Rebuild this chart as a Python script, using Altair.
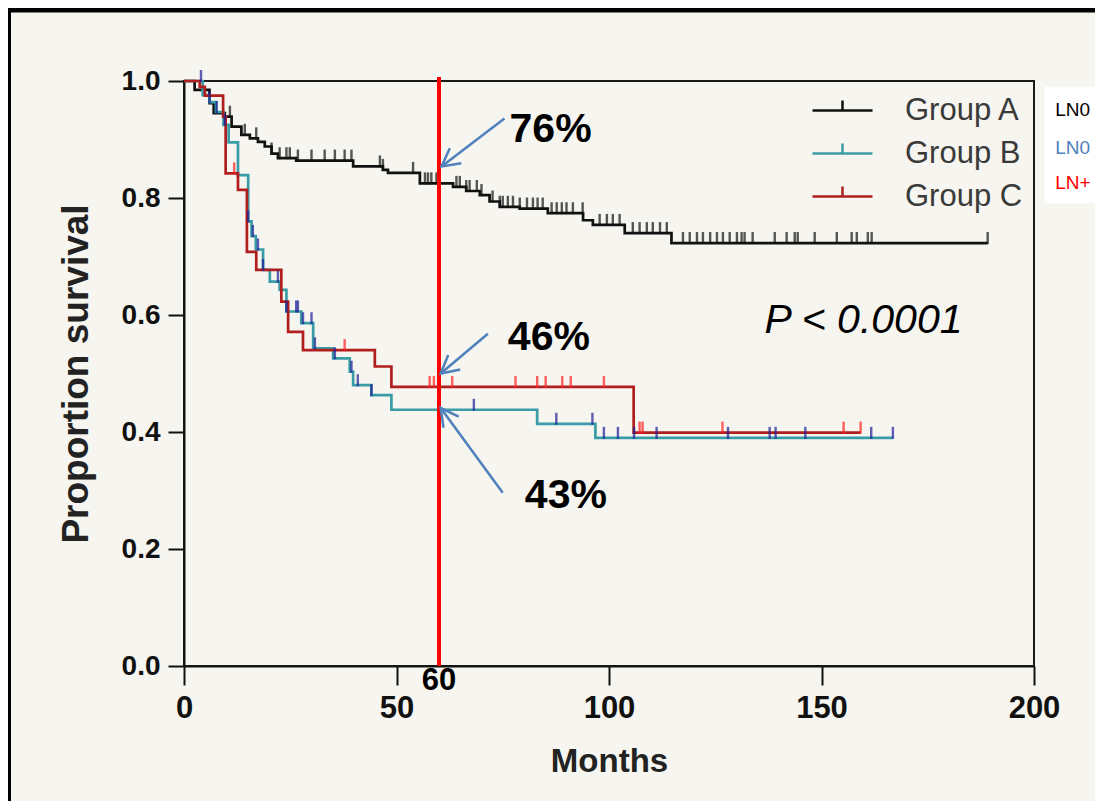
import altair as alt
import pandas as pd

# ---------------- data ----------------
groups = ["Group A", "Group B", "Group C"]
line_colors = ["#111111", "#3A9CA6", "#B01E1E"]
tick_colors = ["#111111", "#1C1C99", "#FF2020"]

# Kaplan-Meier step points (months, proportion surviving)
a_times = [0, 2.5, 6.0, 7.0, 9.6, 11.2, 13.5, 15.5, 17.4, 19.0, 20.6, 22.1, 26.4, 39.8, 46.8,
           48.0, 55.5, 63.3, 66.4, 69.6, 71.9, 74.3, 79.0, 85.6, 93.9, 96.2, 103.7, 114.7, 189.1]
a_surv = [1.0, 0.985, 0.962, 0.945, 0.939, 0.922, 0.908, 0.902, 0.896, 0.888, 0.876, 0.868, 0.864, 0.854, 0.848,
          0.843, 0.825, 0.819, 0.812, 0.805, 0.794, 0.785, 0.782, 0.774, 0.762, 0.754, 0.740, 0.723, 0.723]

b_times = [0, 4.4, 6.0, 7.5, 9.3, 10.5, 12.7, 15.1, 15.9, 16.9, 18.6, 20.2, 22.5, 24.1, 27.6,
           30.4, 35.1, 39.0, 39.8, 44.1, 48.8, 83.1, 96.8, 166.8]
b_surv = [1.0, 0.976, 0.964, 0.947, 0.925, 0.895, 0.839, 0.760, 0.735, 0.712, 0.677, 0.657, 0.643, 0.606, 0.586,
          0.543, 0.526, 0.503, 0.480, 0.463, 0.438, 0.414, 0.390, 0.390]

c_times = [0, 3.7, 4.9, 9.2, 9.8, 12.7, 14.8, 17.0, 22.9, 24.5, 28.0, 44.9, 48.8, 105.8, 159.2]
c_surv = [1.0, 0.99, 0.975, 0.939, 0.842, 0.814, 0.708, 0.677, 0.623, 0.571, 0.540, 0.512, 0.477, 0.399, 0.399]

# censored observations (months)
a_cens = [10.8, 14.3, 17.0, 20.6, 22.5, 24.1, 24.9, 26.8, 30.0, 33.1, 35.5, 37.8, 39.4, 46.1, 46.8,
          53.9, 56.7, 57.4, 58.2, 59.4, 64.1, 64.9, 66.4, 67.2, 68.9, 70.0, 72.6, 74.3, 75.0, 76.2,
          77.4, 79.0, 80.7, 82.1, 83.2, 84.4, 86.5, 87.7, 88.9, 90.0, 91.5, 93.8, 97.8, 99.5, 100.9,
          102.5, 105.6, 107.2, 108.9, 110.3, 112.0, 113.6, 117.4, 119.0, 120.7, 122.1, 123.8, 125.4,
          126.8, 128.4, 130.1, 131.2, 131.9, 133.8, 139.0, 141.8, 143.7, 144.4, 148.4, 153.6, 157.1,
          158.3, 160.9, 161.8, 189.1]
b_cens = [4.0, 6.0, 7.7, 9.6, 15.1, 16.2, 17.4, 18.6, 22.1, 24.1, 26.4, 26.8, 28.0, 30.0, 30.8, 35.5,
          39.4, 40.9, 44.1, 68.2, 87.6, 96.1, 98.8, 102.1, 105.9, 111.2, 128.0, 137.8, 139.2, 146.2,
          161.7, 166.8]
c_cens = [11.8, 37.8, 57.8, 58.8, 59.8, 63.1, 78.0, 83.1, 85.1, 89.0, 91.0, 98.8, 107.2, 107.9,
          126.7, 155.2, 159.2]

x_ticks = [0, 50, 100, 150, 200]
y_ticks = [0.0, 0.2, 0.4, 0.6, 0.8, 1.0]
cutoff_month = [60]

pct_labels = ["76%", "46%", "43%"]
pct_t = [76.6, 76.2, 80.2]
pct_s = [0.896, 0.540, 0.270]

arrow_t0 = [75.4, 71.5, 75.0]
arrow_s0 = [0.936, 0.568, 0.296]
arrow_t1 = [60.6, 60.4, 60.4]
arrow_s1 = [0.854, 0.500, 0.441]
arrow_angle = [232.6, 230.3, 323.8]

p_text = ["P < 0.0001"]
p_t = [136.6]
p_s = [0.569]

side_labels = ["LN0", "LN0", "LN+"]
side_colors = ["#000000", "#4F81BD", "#FF0000"]
side_s = [0.950, 0.885, 0.826]

# ---------------- tables ----------------
curves = {"Group A": (a_times, a_surv), "Group B": (b_times, b_surv), "Group C": (c_times, c_surv)}
cens = {"Group A": a_cens, "Group B": b_cens, "Group C": c_cens}

rows = []
for g, (ts, ss) in curves.items():
    for t, s in zip(ts, ss):
        rows.append({"group": g, "t": t, "s": s})
curve_df = pd.DataFrame(rows)


def level_at(g, t):
    ts, ss = curves[g]
    val = ss[0]
    for tt, sv in zip(ts, ss):
        if tt <= t + 1e-9:
            val = sv
    return val


crow = []
for g, lst in cens.items():
    for t in lst:
        crow.append({"cgroup": g, "t": t, "s": level_at(g, t)})
cens_df = pd.DataFrame(crow)

pct_df = pd.DataFrame({"label": pct_labels, "t": pct_t, "s": pct_s})
arrow_df = pd.DataFrame({"t0": arrow_t0, "s0": arrow_s0, "t1": arrow_t1, "s1": arrow_s1, "ang": arrow_angle})
p_df = pd.DataFrame({"label": p_text, "t": p_t, "s": p_s})
cut_df = pd.DataFrame({"t": cutoff_month, "label": [str(m) for m in cutoff_month]})
side_df = pd.DataFrame({"label": side_labels, "color": side_colors, "s": side_s, "t": [205.0] * 3})
box_df = pd.DataFrame({"t": [202.5], "t2": [230], "s": [0.990], "s2": [0.791]})
one = pd.DataFrame({"a": [0]})

FONT = "Liberation Sans"
xscale = alt.Scale(domain=[0, 200], nice=False, zero=False)
yscale = alt.Scale(domain=[0, 1], nice=False)

lines = alt.Chart(curve_df).mark_line(interpolate="step-after", strokeWidth=2.7).encode(
    x=alt.X("t:Q", scale=xscale,
            axis=alt.Axis(values=x_ticks, title="Months", tickSize=19, labelPadding=8,
                          labelFontSize=31, labelFontWeight="bold", labelFont=FONT, labelColor="#111",
                          titleFontSize=33, titleFont=FONT, titleFontWeight="bold", titleColor="#222",
                          titlePadding=22, domainColor="#111", domainWidth=2, tickColor="#111",
                          tickWidth=2, grid=False, labelFlush=False)),
    y=alt.Y("s:Q", scale=yscale,
            axis=alt.Axis(values=y_ticks, format=".1f", title="Proportion survival", tickSize=16,
                          labelPadding=8, labelFontSize=28, labelFontWeight="bold", labelFont=FONT,
                          labelColor="#111", titleFontSize=37, titleFont=FONT, titleFontWeight="bold",
                          titleColor="#222", titlePadding=26, domainColor="#111", domainWidth=2,
                          tickColor="#111", tickWidth=2, grid=False)),
    color=alt.Color("group:N", scale=alt.Scale(domain=groups, range=line_colors),
                    legend=alt.Legend(orient="none", legendX=642, legendY=13, title=None,
                                      symbolType="M-2,0H2M0,0V-0.67", symbolSize=900,
                                      symbolStrokeWidth=2.5, labelFontSize=31, labelFont=FONT,
                                      labelColor="#3a3a3a", labelOffset=46, rowPadding=11,
                                      padding=0)),
    order=alt.Order("t:Q"),
)

ticks = alt.Chart(cens_df).mark_tick(orient="vertical", size=12, thickness=2.4, yOffset=-5).encode(
    x=alt.X("t:Q", scale=xscale),
    y=alt.Y("s:Q", scale=yscale),
    color=alt.Color("cgroup:N", scale=alt.Scale(domain=groups, range=tick_colors), legend=None),
)

cut_rule = alt.Chart(cut_df).mark_rule(color="#FF0000", strokeWidth=4).encode(
    x=alt.X("t:Q", scale=xscale), y=alt.value(-4), y2=alt.value(585))

cut_text = alt.Chart(cut_df).mark_text(font=FONT, fontSize=31, fontWeight="bold", color="#000",
                                        baseline="alphabetic", align="center").encode(
    x=alt.X("t:Q", scale=xscale), y=alt.value(609), text="label:N")

arrow_lines = alt.Chart(arrow_df).mark_rule(color="#4F81BD", strokeWidth=2.5).encode(
    x=alt.X("t0:Q", scale=xscale), y=alt.Y("s0:Q", scale=yscale), x2="t1:Q", y2="s1:Q")

arrow_heads = alt.Chart(arrow_df).mark_point(shape="M-0.47,0.88L0,0L0.47,0.88", filled=False,
                                             size=1600, strokeWidth=2.5, color="#4F81BD",
                                             opacity=1).encode(
    x=alt.X("t1:Q", scale=xscale), y=alt.Y("s1:Q", scale=yscale),
    angle=alt.Angle("ang:Q", scale=None))

pct_text = alt.Chart(pct_df).mark_text(font=FONT, fontSize=41, fontWeight="bold", color="#000",
                                        align="left", baseline="alphabetic").encode(
    x=alt.X("t:Q", scale=xscale), y=alt.Y("s:Q", scale=yscale), text="label:N")

p_mark = alt.Chart(p_df).mark_text(font=FONT, fontSize=41, fontStyle="italic", color="#000",
                                    align="left", baseline="alphabetic").encode(
    x=alt.X("t:Q", scale=xscale), y=alt.Y("s:Q", scale=yscale), text="label:N")

side_box = alt.Chart(box_df).mark_rect(color="#FFFFFF", clip=False).encode(
    x=alt.X("t:Q", scale=xscale), x2="t2:Q", y=alt.Y("s:Q", scale=yscale), y2="s2:Q")

side_text = alt.Chart(side_df).mark_text(font=FONT, fontSize=19, align="left",
                                          baseline="middle").encode(
    x=alt.X("t:Q", scale=xscale), y=alt.Y("s:Q", scale=yscale), text="label:N",
    color=alt.Color("color:N", scale=None))

top_border = alt.Chart(one).mark_rule(color="#000000", strokeWidth=5).encode(
    x=alt.value(-180), x2=alt.value(920), y=alt.value(-71))
left_border = alt.Chart(one).mark_rule(color="#000000", strokeWidth=3).encode(
    x=alt.value(-174.5), y=alt.value(-73), y2=alt.value(730))

chart = alt.layer(
    lines, ticks, cut_rule, cut_text, arrow_lines, arrow_heads, pct_text, p_mark,
    side_box, side_text, top_border, left_border
).resolve_scale(color="independent").properties(
    width=850, height=585,
    background="#F6F5EF",
    autosize=alt.AutoSizeParams(type="none"),
    padding={"left": 176, "top": 73, "right": 61, "bottom": 135},
).configure_view(stroke="#1a1a1a", strokeWidth=2)

chart.save("out.html", embed_options={"renderer": "svg", "actions": False})
